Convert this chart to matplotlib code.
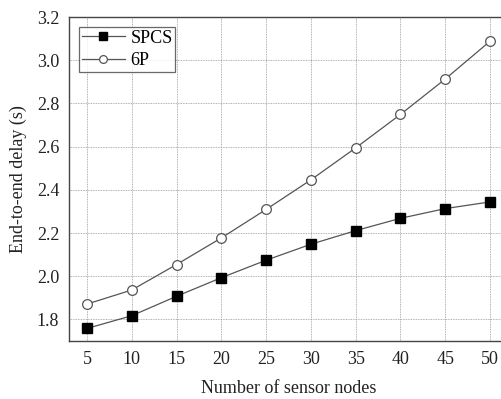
import matplotlib
matplotlib.use("Agg")
import matplotlib.pyplot as plt

nodes = [5, 10, 15, 20, 25, 30, 35, 40, 45, 50]
spcs = [1.758, 1.817, 1.907, 1.993, 2.074, 2.148, 2.211, 2.268, 2.313, 2.344]
six_p = [1.871, 1.936, 2.054, 2.177, 2.309, 2.446, 2.594, 2.749, 2.913, 3.088]
yticks = [1.8, 2.0, 2.2, 2.4, 2.6, 2.8, 3.0, 3.2]

plt.rcParams["font.family"] = ["Liberation Serif", "DejaVu Serif"]
LINE = "#555555"
TXT = "#222222"

fig = plt.figure(figsize=(5.01, 3.99), dpi=100)
ax = fig.add_axes([69 / 501, 58 / 399, 439 / 501, 324 / 399])

ax.plot(nodes, spcs, color=LINE, lw=0.9, marker="s", ms=6.5,
        mfc="black", mec="black", label="SPCS")
ax.plot(nodes, six_p, color=LINE, lw=0.9, marker="o", ms=7,
        mfc="white", mec=LINE, mew=0.9, label="6P")

ax.set_xlim(3, 52)
ax.set_ylim(1.7, 3.2)
ax.set_xticks(nodes)
ax.set_yticks(yticks)
ax.set_yticklabels([f"{v:.1f}" for v in yticks])
ax.grid(color="#999999", ls=(0, (1, 1)), lw=0.6)
ax.set_axisbelow(True)
ax.tick_params(length=0, labelsize=13, pad=7, colors=TXT)
for s in ax.spines.values():
    s.set_color("#444444")
    s.set_linewidth(1.0)

ax.set_xlabel("Number of sensor nodes", fontsize=13, labelpad=9, color=TXT)
ax.set_ylabel("End-to-end delay (s)", fontsize=13, labelpad=7, color=TXT)

leg = ax.legend(loc="upper left", fontsize=13, fancybox=False, edgecolor="#444444",
                borderaxespad=0.55, handlelength=2.4, handletextpad=0.3,
                borderpad=0.15, labelspacing=0.3, markerscale=0.8)
leg.get_frame().set_linewidth(0.9)

fig.savefig("out.png", dpi=100)
